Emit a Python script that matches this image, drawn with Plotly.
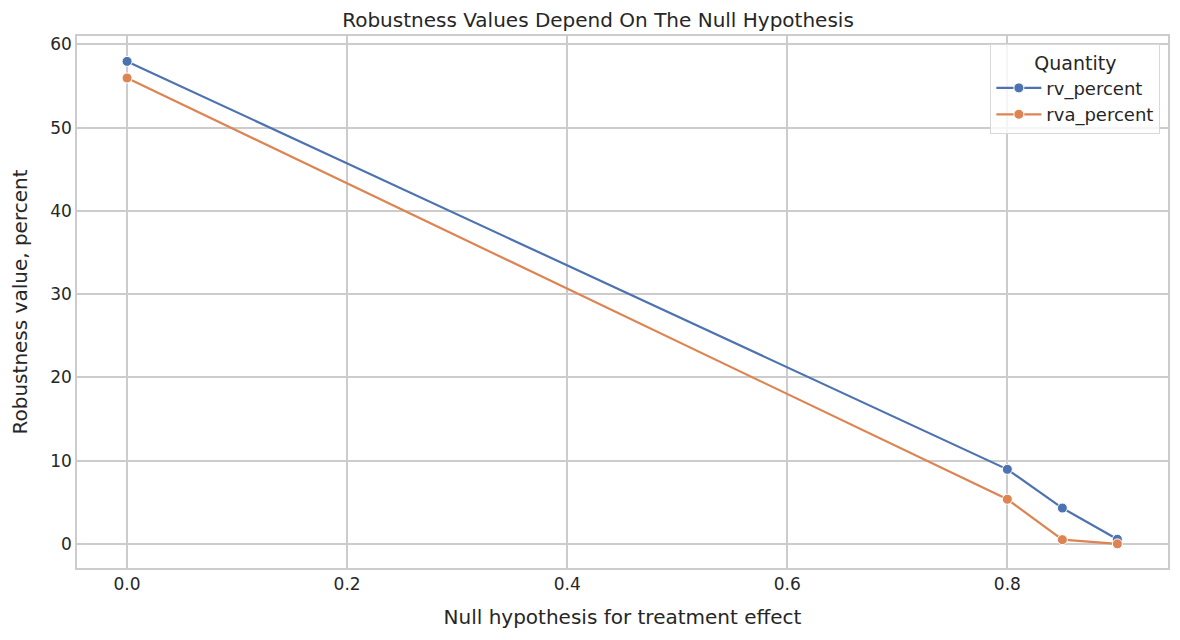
import plotly.graph_objects as go

# null hypothesis values and robustness values (percent)
null_hyp = [0.0, 0.8, 0.85, 0.9]
rv_percent = [57.95, 8.95, 4.3, 0.55]
rva_percent = [55.95, 5.35, 0.5, 0.0]

blue = '#4c72b0'
orange = '#dd8452'
grid = '#cccccc'

fig = go.Figure()

fig.add_trace(go.Scatter(x=null_hyp, y=rv_percent, mode='lines+markers', name='rv_percent',
                         line=dict(color=blue, width=2.2),
                         marker=dict(size=10, color=blue, line=dict(color='white', width=1))))
fig.add_trace(go.Scatter(x=null_hyp, y=rva_percent, mode='lines+markers', name='rva_percent',
                         line=dict(color=orange, width=2.2),
                         marker=dict(size=10, color=orange, line=dict(color='white', width=1))))

fig.update_xaxes(range=[-0.0455, 0.946], tickvals=[0.0, 0.2, 0.4, 0.6, 0.8],
                 ticktext=['0.0', '0.2', '0.4', '0.6', '0.8'],
                 showgrid=True, gridcolor=grid, gridwidth=1.6, zeroline=False,
                 showline=True, linecolor=grid, linewidth=1.6, mirror=True, ticks='',
                 title=dict(text='Null hypothesis for treatment effect', font=dict(size=20), standoff=17),
                 tickfont=dict(size=17))
fig.update_yaxes(range=[-2.9, 61.0], tickvals=[0, 10, 20, 30, 40, 50, 60],
                 showgrid=True, gridcolor=grid, gridwidth=1.6, zeroline=False,
                 showline=True, linecolor=grid, linewidth=1.6, mirror=True, ticks='',
                 title=dict(text='Robustness value, percent', font=dict(size=20), standoff=17),
                 tickfont=dict(size=17))

fig.update_layout(
    width=1180, height=640,
    margin=dict(l=69, r=20, t=28, b=80),
    paper_bgcolor='white', plot_bgcolor='white',
    font=dict(family='DejaVu Sans', color='#262626', size=17),
    title=dict(text='Robustness Values Depend On The Null Hypothesis', x=0.5, xanchor='center',
               y=0.981, yanchor='middle', font=dict(size=20)),
    legend=dict(x=0.993, y=0.985, xanchor='right', yanchor='top', itemwidth=45,
                bgcolor='rgba(255,255,255,0.8)', bordercolor='#d8d8d8', borderwidth=1,
                title=dict(text='Quantity', side='top center', font=dict(size=19)),
                font=dict(size=18)),
)

fig.write_html("out.html")
